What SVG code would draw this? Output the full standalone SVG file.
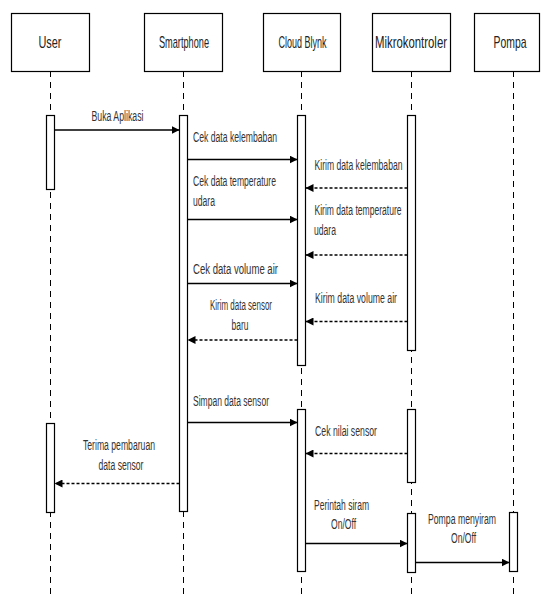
<svg xmlns="http://www.w3.org/2000/svg" width="541" height="597" viewBox="0 0 541 597">
<style>
.box{fill:#fff;stroke:#000;stroke-width:1.2}
.act{fill:#fff;stroke:#000;stroke-width:1.2}
.life{stroke:#000;stroke-width:1;stroke-dasharray:6 5;fill:none}
.msg{stroke:#000;stroke-width:1.3;fill:none}
.ret{stroke:#000;stroke-width:1.3;fill:none;stroke-dasharray:3 2}
.h{font-family:"Liberation Sans",Arial,sans-serif;font-size:17px;fill:#222}
.t{font-family:"Liberation Sans",Arial,sans-serif;font-size:14px;fill:#333}
</style>
<defs>
<marker id="arr" viewBox="0 0 8 8" refX="8" refY="4" markerWidth="8" markerHeight="8" markerUnits="userSpaceOnUse" orient="auto">
<path d="M0,0 L8,4 L0,8 z" fill="#000"/>
</marker>
</defs>
<g id="lifelines">
<line class="life" x1="50.5" y1="71" x2="50.5" y2="597"/>
<line class="life" x1="183.5" y1="71" x2="183.5" y2="597"/>
<line class="life" x1="301.5" y1="71" x2="301.5" y2="597"/>
<line class="life" x1="411.5" y1="71" x2="411.5" y2="597"/>
<line class="life" x1="513.5" y1="71" x2="513.5" y2="597"/>
</g>
<g id="user">
<rect class="box" x="11.5" y="13.5" width="78" height="58"/>
<text class="h" x="50" y="48" text-anchor="middle" textLength="23" lengthAdjust="spacingAndGlyphs">User</text>
<rect class="act" x="46.5" y="115.5" width="8" height="74"/>
<rect class="act" x="46.5" y="423.5" width="8" height="89"/>
</g>
<g id="smartphone">
<rect class="box" x="144.5" y="13.5" width="78" height="58"/>
<text class="h" x="184" y="48" text-anchor="middle" textLength="50" lengthAdjust="spacingAndGlyphs">Smartphone</text>
<rect class="act" x="179.5" y="115.5" width="8" height="396"/>
</g>
<g id="cloud">
<rect class="box" x="263.5" y="13.5" width="77" height="58"/>
<text class="h" x="302.5" y="48" text-anchor="middle" textLength="48" lengthAdjust="spacingAndGlyphs">Cloud Blynk</text>
<rect class="act" x="297.5" y="115.5" width="8" height="250"/>
<rect class="act" x="297.5" y="409.5" width="8" height="162"/>
</g>
<g id="mikrokontroler">
<rect class="box" x="372.5" y="13.5" width="78" height="58"/>
<text class="h" x="411" y="48" text-anchor="middle" textLength="72" lengthAdjust="spacingAndGlyphs">Mikrokontroler</text>
<rect class="act" x="407.5" y="115.5" width="8" height="235"/>
<rect class="act" x="407.5" y="409.5" width="8" height="73"/>
<rect class="act" x="407.5" y="513.5" width="8" height="59"/>
</g>
<g id="pompa">
<rect class="box" x="474.5" y="13.5" width="65" height="58"/>
<text class="h" x="510" y="48" text-anchor="middle" textLength="33" lengthAdjust="spacingAndGlyphs">Pompa</text>
<rect class="act" x="509.5" y="512.5" width="8" height="59"/>
</g>
<g id="connectors">
<line class="msg" x1="54.5" y1="130" x2="179.5" y2="130" marker-end="url(#arr)"/>
<line class="msg" x1="187.5" y1="159.5" x2="297.5" y2="159.5" marker-end="url(#arr)"/>
<line class="ret" x1="407.5" y1="188" x2="305.5" y2="188" marker-end="url(#arr)"/>
<line class="msg" x1="187.5" y1="219.5" x2="297.5" y2="219.5" marker-end="url(#arr)"/>
<line class="ret" x1="407.5" y1="255" x2="305.5" y2="255" marker-end="url(#arr)"/>
<line class="msg" x1="187.5" y1="283.5" x2="297.5" y2="283.5" marker-end="url(#arr)"/>
<line class="ret" x1="407.5" y1="321.5" x2="305.5" y2="321.5" marker-end="url(#arr)"/>
<line class="ret" x1="297.5" y1="340" x2="187.5" y2="340" marker-end="url(#arr)"/>
<line class="msg" x1="187.5" y1="422.5" x2="297.5" y2="422.5" marker-end="url(#arr)"/>
<line class="ret" x1="407.5" y1="453.5" x2="305.5" y2="453.5" marker-end="url(#arr)"/>
<line class="ret" x1="179.5" y1="483.5" x2="54.5" y2="483.5" marker-end="url(#arr)"/>
<line class="msg" x1="305.5" y1="543.5" x2="407.5" y2="543.5" marker-end="url(#arr)"/>
<line class="msg" x1="415.5" y1="562.5" x2="509.5" y2="562.5" marker-end="url(#arr)"/>
</g>
<g id="labels">
<text class="t" x="117.5" y="121" text-anchor="middle" textLength="52" lengthAdjust="spacingAndGlyphs">Buka Aplikasi</text>
<text class="t" x="193" y="141.5" textLength="84" lengthAdjust="spacingAndGlyphs">Cek data kelembaban</text>
<text class="t" x="314.5" y="170" textLength="88" lengthAdjust="spacingAndGlyphs">Kirim data kelembaban</text>
<text class="t" x="193" y="186" textLength="83" lengthAdjust="spacingAndGlyphs">Cek data temperature</text>
<text class="t" x="193" y="206" textLength="22" lengthAdjust="spacingAndGlyphs">udara</text>
<text class="t" x="314.5" y="215" textLength="87" lengthAdjust="spacingAndGlyphs">Kirim data temperature</text>
<text class="t" x="314" y="234.5" textLength="22" lengthAdjust="spacingAndGlyphs">udara</text>
<text class="t" x="193" y="274" textLength="85" lengthAdjust="spacingAndGlyphs">Cek data volume air</text>
<text class="t" x="315" y="303" textLength="82" lengthAdjust="spacingAndGlyphs">Kirim data volume air</text>
<text class="t" x="241" y="309.5" text-anchor="middle" textLength="62" lengthAdjust="spacingAndGlyphs">Kirim data sensor</text>
<text class="t" x="240" y="330" text-anchor="middle" textLength="17" lengthAdjust="spacingAndGlyphs">baru</text>
<text class="t" x="193" y="406" textLength="76" lengthAdjust="spacingAndGlyphs">Simpan data sensor</text>
<text class="t" x="315" y="436" textLength="62" lengthAdjust="spacingAndGlyphs">Cek nilai sensor</text>
<text class="t" x="119" y="450" text-anchor="middle" textLength="72" lengthAdjust="spacingAndGlyphs">Terima pembaruan</text>
<text class="t" x="121" y="470" text-anchor="middle" textLength="45" lengthAdjust="spacingAndGlyphs">data sensor</text>
<text class="t" x="341.5" y="510" text-anchor="middle" textLength="55" lengthAdjust="spacingAndGlyphs">Perintah siram</text>
<text class="t" x="343.5" y="529" text-anchor="middle" textLength="25" lengthAdjust="spacingAndGlyphs">On/Off</text>
<text class="t" x="462" y="523.5" text-anchor="middle" textLength="68" lengthAdjust="spacingAndGlyphs">Pompa menyiram</text>
<text class="t" x="463.5" y="543" text-anchor="middle" textLength="25" lengthAdjust="spacingAndGlyphs">On/Off</text>
</g>
</svg>
